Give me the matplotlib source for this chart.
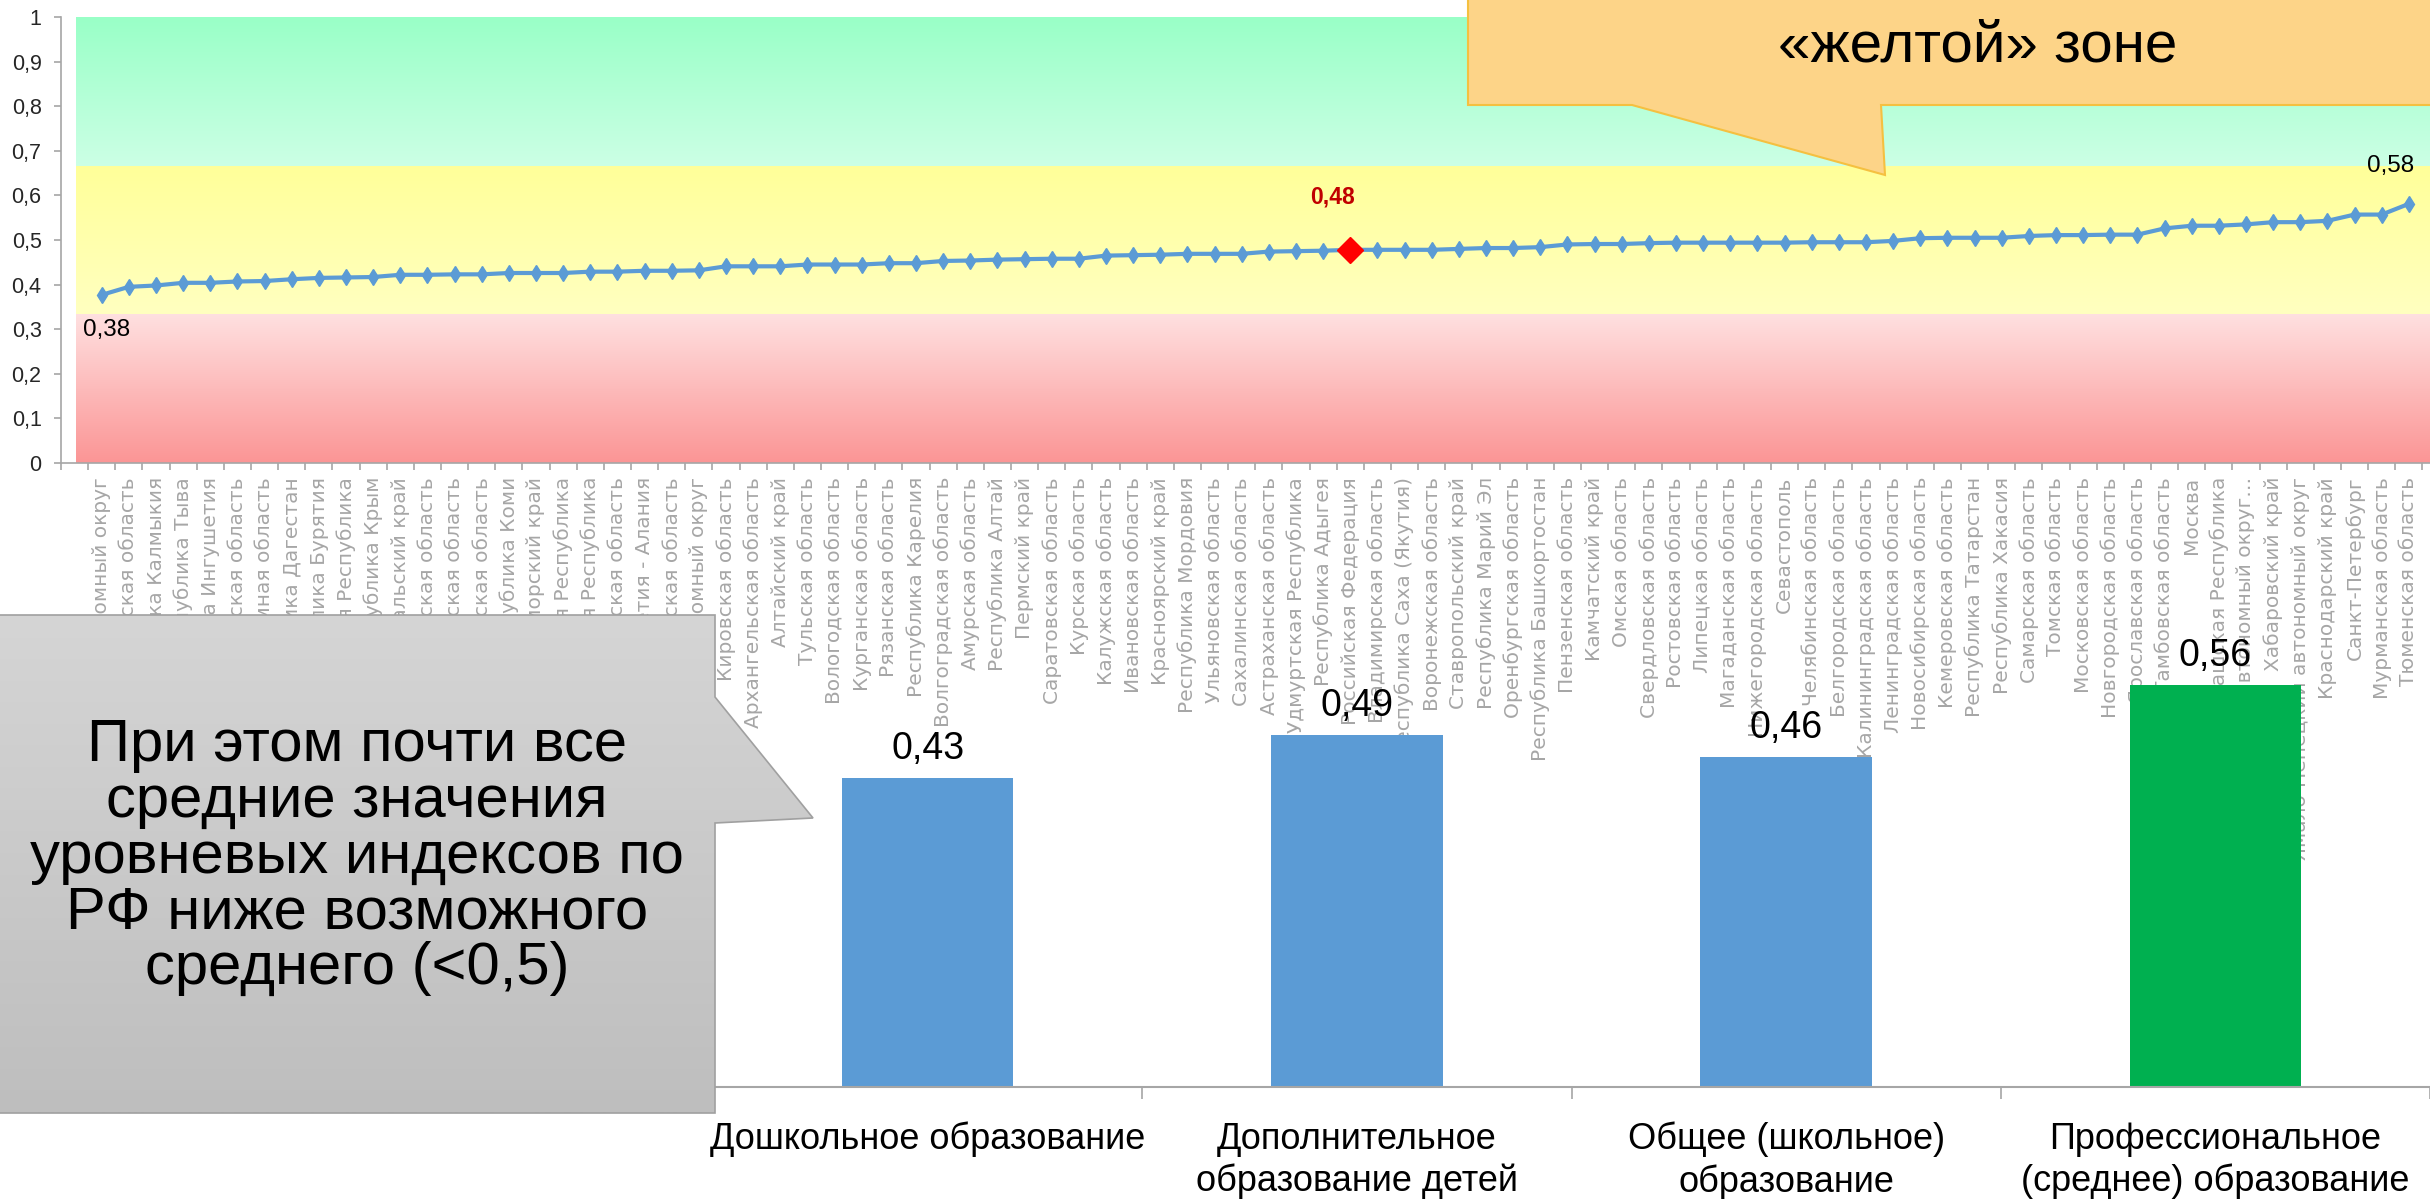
import numpy as np
import matplotlib
matplotlib.use('Agg')
import matplotlib.pyplot as plt
from matplotlib.colors import LinearSegmentedColormap
from matplotlib.patches import Polygon

# --- data -------------------------------------------------------------
regions = [
    'Чукотский автономный округ', 'Псковская область', 'Республика Калмыкия',
    'Республика Тыва', 'Республика Ингушетия', 'Тверская область',
    'Еврейская автономная область', 'Республика Дагестан', 'Республика Бурятия',
    'Чеченская Республика', 'Республика Крым', 'Забайкальский край',
    'Орловская область', 'Смоленская область', 'Костромская область',
    'Республика Коми', 'Приморский край', 'Карачаево-Черкесская Республика',
    'Кабардино-Балкарская Республика', 'Брянская область',
    'Республика Северная Осетия - Алания', 'Иркутская область',
    'Ненецкий автономный округ', 'Кировская область', 'Архангельская область',
    'Алтайский край', 'Тульская область', 'Вологодская область',
    'Курганская область', 'Рязанская область', 'Республика Карелия',
    'Волгоградская область', 'Амурская область', 'Республика Алтай',
    'Пермский край', 'Саратовская область', 'Курская область',
    'Калужская область', 'Ивановская область', 'Красноярский край',
    'Республика Мордовия', 'Ульяновская область', 'Сахалинская область',
    'Астраханская область', 'Удмуртская Республика', 'Республика Адыгея',
    'Российская Федерация', 'Владимирская область', 'Республика Саха (Якутия)',
    'Воронежская область', 'Ставропольский край', 'Республика Марий Эл',
    'Оренбургская область', 'Республика Башкортостан', 'Пензенская область',
    'Камчатский край', 'Омская область', 'Свердловская область',
    'Ростовская область', 'Липецкая область', 'Магаданская область',
    'Нижегородская область', 'Севастополь', 'Челябинская область',
    'Белгородская область', 'Калининградская область', 'Ленинградская область',
    'Новосибирская область', 'Кемеровская область', 'Республика Татарстан',
    'Республика Хакасия', 'Самарская область', 'Томская область',
    'Московская область', 'Новгородская область', 'Ярославская область',
    'Тамбовская область', 'Москва', 'Чувашская Республика',
    'Ханты-Мансийский автономный округ…', 'Хабаровский край',
    'Ямало-Ненецкий автономный округ', 'Краснодарский край', 'Санкт-Петербург',
    'Мурманская область', 'Тюменская область',
]

index_values = [
    0.377, 0.395, 0.398, 0.404, 0.404, 0.407, 0.408, 0.412, 0.415, 0.416,
    0.417, 0.422, 0.422, 0.423, 0.423, 0.426, 0.426, 0.426, 0.429, 0.429,
    0.431, 0.431, 0.432, 0.441, 0.441, 0.441, 0.445, 0.445, 0.445, 0.448,
    0.448, 0.453, 0.454, 0.456, 0.457, 0.458, 0.458, 0.465, 0.466, 0.467,
    0.469, 0.469, 0.469, 0.474, 0.475, 0.476, 0.478, 0.478, 0.478, 0.478,
    0.480, 0.482, 0.482, 0.484, 0.490, 0.491, 0.491, 0.493, 0.494, 0.494,
    0.494, 0.494, 0.494, 0.495, 0.495, 0.495, 0.498, 0.504, 0.505, 0.505,
    0.505, 0.509, 0.511, 0.511, 0.512, 0.512, 0.526, 0.532, 0.532, 0.535,
    0.540, 0.540, 0.543, 0.557, 0.557, 0.581,
]
rf_name = 'Российская Федерация'

levels = ['Дошкольное образование', 'Дополнительное\nобразование детей',
          'Общее (школьное)\nобразование', 'Профессиональное\n(среднее) образование']
level_means = [0.43, 0.49, 0.46, 0.56]
level_colors = ['#5B9BD5', '#5B9BD5', '#5B9BD5', '#00B050']

# zones: lower, upper, bottom colour, top colour
zones = [(0, 1 / 3, '#FB9595', '#FFE0E0'),
         (1 / 3, 2 / 3, '#FFFFC0', '#FFFF99'),
         (2 / 3, 1, '#CCFFE5', '#99FFC7')]
y_ticks = np.round(np.arange(0, 1.01, 0.1), 1)

callout_left = 'При этом почти все\nсредние значения\nуровневых индексов по\nРФ ниже возможного\nсреднего (<0,5)'
callout_top = '«желтой» зоне'


def comma(v, fmt='{:.2f}'):
    return fmt.format(v).replace('.', ',')


CAL = 'Liberation Sans'
GREY = '#A6A6A6'
W, H = 2430, 1199
fig = plt.figure(figsize=(W / 100, H / 100), dpi=100)


def box(x0, y0, x1, y1):
    # pixel box (top-left origin) -> figure fraction rect
    return [x0 / W, 1 - y1 / H, (x1 - x0) / W, (y1 - y0) / H]


# --- top chart: regions ----------------------------------------------
ax = fig.add_axes(box(61, 17, 2430, 463))
n = len(regions)
x = np.arange(n)
xr = 85.78
for lo, hi, c_bot, c_top in zones:
    cmap = LinearSegmentedColormap.from_list('z', [c_bot, c_top])
    ax.imshow(np.linspace(0, 1, 256).reshape(-1, 1), cmap=cmap, origin='lower',
              extent=(-0.96, xr, lo, hi), aspect='auto', zorder=0)

ax.plot(x, index_values, color='#5B9BD5', lw=3, marker='d', ms=8.5, zorder=3)
rf = regions.index(rf_name)
ax.plot(rf, index_values[rf], marker='D', color='#FF0000', ms=13, zorder=4, ls='none')

ax.annotate(comma(index_values[0]), (0, index_values[0]), xytext=(5, -35),
            textcoords='offset pixels', ha='center', va='center', fontsize=17.5, family=CAL)
ax.annotate(comma(index_values[-1]), (n - 1, index_values[-1]), xytext=(-18, 38),
            textcoords='offset pixels', ha='center', va='center', fontsize=17.5, family=CAL)
ax.annotate(comma(index_values[rf]), (rf, index_values[rf]), xytext=(-18, 53),
            textcoords='offset pixels', ha='center', va='center', fontsize=16.5,
            family=CAL, weight='bold', color='#C00000')

ax.set_xlim(-1.5, xr)
ax.set_ylim(0, 1)
ax.set_xticks(np.arange(-1.5, n, 1))
ax.set_xticklabels([])
ax.set_xticks(x, minor=True)
ax.set_xticklabels(regions, minor=True, rotation=90, family='DejaVu Sans')
ax.tick_params(axis='x', which='major', length=5, color=GREY, width=1.2)
ax.tick_params(axis='x', which='minor', length=0, pad=10, labelsize=14.5, labelcolor=GREY)
ax.set_yticks(y_ticks)
ax.set_yticklabels([comma(v, '{:g}') for v in y_ticks], family=CAL)
ax.tick_params(axis='y', length=5, color=GREY, width=1.2, pad=9, labelsize=15.5, labelcolor='#262626')
for s in ['top', 'right']:
    ax.spines[s].set_visible(False)
for s in ['left', 'bottom']:
    ax.spines[s].set_color(GREY)
    ax.spines[s].set_linewidth(1.2)

# --- bottom chart: level means ----------------------------------------
ax2 = fig.add_axes(box(713, 1087 - 431, 2430, 1087))
ax2.patch.set_alpha(0)
ax2.set_zorder(2)
pos = np.arange(len(levels))
ax2.bar(pos, level_means, width=0.4, color=level_colors, zorder=2)
for p, v in zip(pos, level_means):
    ax2.annotate(comma(v), (p, v), xytext=(0, 11), textcoords='offset pixels',
                 ha='center', va='bottom', fontsize=27, family=CAL)
ax2.set_xlim(-0.5, len(levels) - 0.5)
ax2.set_ylim(0, 0.6)
ax2.set_yticks([])
ax2.set_xticks(pos)
ax2.set_xticklabels(levels, family=CAL, fontsize=26, linespacing=1.25)
ax2.set_xticks(np.arange(-0.5, len(levels)), minor=True)
ax2.tick_params(axis='x', which='major', length=0, pad=25)
ax2.tick_params(axis='x', which='minor', length=8.5, color=GREY, width=1.2)
for s in ['top', 'right', 'left']:
    ax2.spines[s].set_visible(False)
ax2.spines['bottom'].set_color(GREY)
ax2.spines['bottom'].set_linewidth(1.5)

# --- callouts (pixel overlay) ------------------------------------------
ov = fig.add_axes([0, 0, 1, 1])
ov.set_zorder(10)
ov.patch.set_alpha(0)
ov.axis('off')

grey_pts = [(-5, 615), (715, 615), (715, 697), (813, 818), (715, 823), (715, 1113), (-5, 1113)]
grey_poly = Polygon(grey_pts, closed=True, facecolor='none', edgecolor='#A0A0A0', lw=1.2, zorder=3)
ov.add_patch(grey_poly)
gcmap = LinearSegmentedColormap.from_list('g', ['#D5D5D5', '#BEBEBE'])
im = ov.imshow(np.linspace(0, 1, 256).reshape(-1, 1), cmap=gcmap, extent=(-5, 815, 1113, 615),
               aspect='auto', zorder=2)
im.set_clip_path(grey_poly)
ov.text(357, 857, callout_left, ha='center', va='center', fontsize=43,
        linespacing=1.02, family=CAL, zorder=4)

orange_pts = [(1468, -5), (1468, 105), (1632, 105), (1885, 175), (1881, 105), (2440, 105), (2440, -5)]
ov.add_patch(Polygon(orange_pts, closed=True, facecolor='#FDD488', edgecolor='#F5C040', lw=1.5, zorder=3))
ov.text(1978, 47, callout_top, ha='center', va='center', fontsize=42, family=CAL, zorder=4)
ov.set_xlim(0, W)
ov.set_ylim(H, 0)

fig.savefig('out.png', dpi=100)
